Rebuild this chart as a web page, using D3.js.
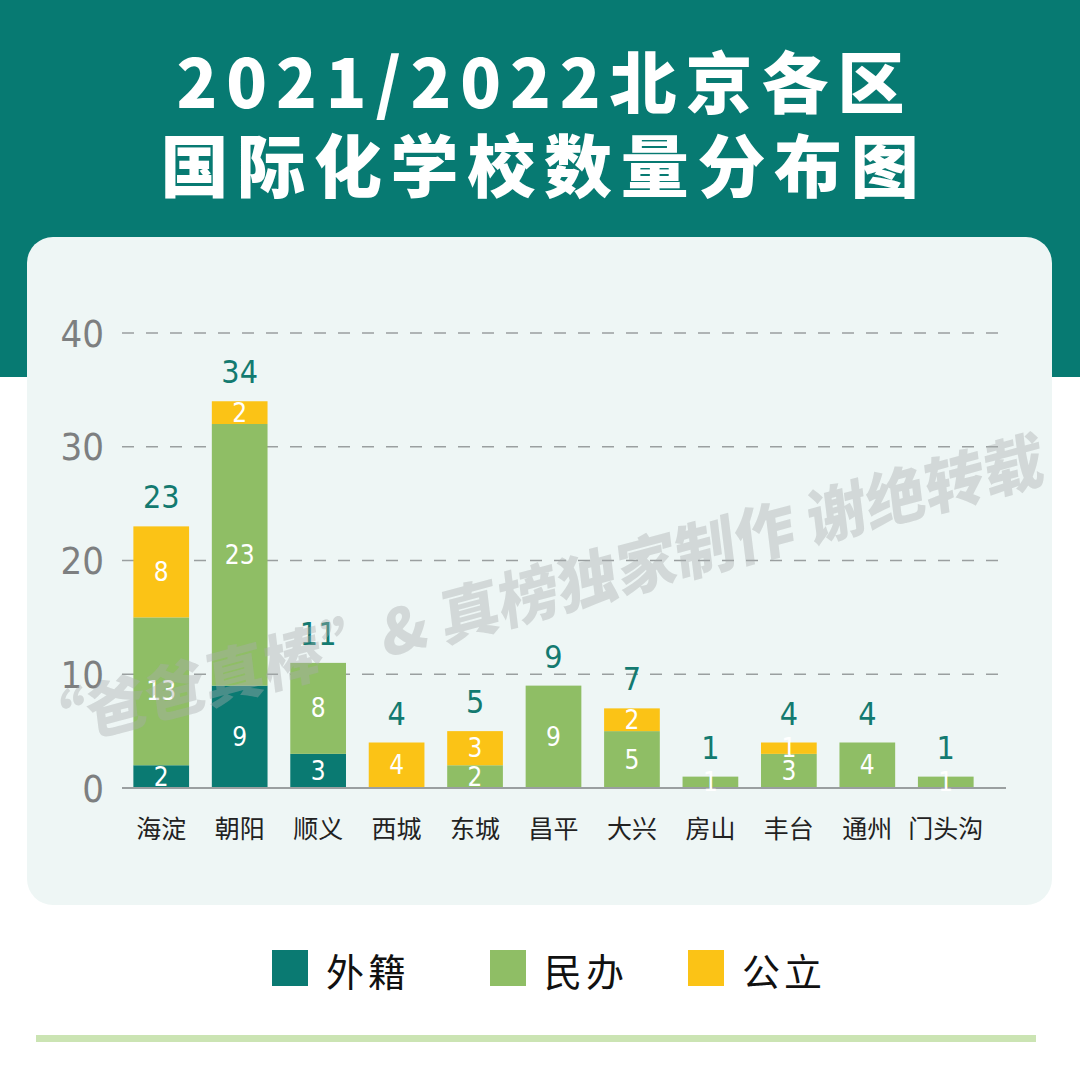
<!DOCTYPE html>
<html><head><meta charset="utf-8">
<script src="https://cdn.jsdelivr.net/npm/d3@7"></script>
<style>
html,body{margin:0;padding:0;background:#fff;}
svg{display:block;}
</style></head>
<body>
<svg id="chart" width="1080" height="1089"></svg>
<script>
const titleLines = ["2021/2022北京各区", "国际化学校数量分布图"];
const categories = ["海淀","朝阳","顺义","西城","东城","昌平","大兴","房山","丰台","通州","门头沟"];
const seriesNames = ["外籍","民办","公立"];
const foreignVals = [2, 9, 3, 0, 0, 0, 0, 0, 0, 0, 0];
const privateVals = [13, 23, 8, 0, 2, 9, 5, 1, 3, 4, 1];
const publicVals  = [8, 2, 0, 4, 3, 0, 2, 0, 1, 0, 0];
const totals      = [23, 34, 11, 4, 5, 9, 7, 1, 4, 4, 1];
const yTicks = [0, 10, 20, 30, 40];
const watermarkText = "“爸爸真棒”& 真榜独家制作 谢绝转载";

const colors = ["#0a7a72", "#8fbe65", "#fbc316"];
const numFont = "'DejaVu Sans Condensed','Liberation Sans Narrow','Roboto',sans-serif";
const cjk = "'Noto Sans CJK SC','Noto Sans',sans-serif";

const svg = d3.select("#chart");

// header band
svg.append("rect").attr("x",0).attr("y",0).attr("width",1080).attr("height",377).attr("fill","#077a72");
// card
svg.append("rect").attr("x",27).attr("y",237).attr("width",1025).attr("height",668)
  .attr("rx",26).attr("ry",26).attr("fill","#eef6f5");

// title
svg.selectAll("text.title").data(titleLines).enter().append("text")
  .attr("class","title")
  .attr("x",(d,i)=> i===0 ? 545 : 544).attr("y",(d,i)=> i===0 ? 78 : 162)
  .attr("text-anchor","middle").attr("dominant-baseline","central")
  .attr("fill","#ffffff").attr("font-family",cjk).attr("font-weight",900)
  .attr("font-size",(d,i)=> i===0 ? 67 : 68).attr("letter-spacing",(d,i)=> i===0 ? 9 : 8.7)
  .text(d=>d);

// scales
const x = d3.scaleBand().domain(categories).range([122,985]).paddingInner(0.29).paddingOuter(0.145);
const y = d3.scaleLinear().domain([0,40]).range([788,333]);

// grid
const grid = svg.append("g");
grid.selectAll("line").data(yTicks.filter(t=>t>0)).enter().append("line")
  .attr("x1",122).attr("x2",1006).attr("y1",d=>y(d)).attr("y2",d=>y(d))
  .attr("stroke","#9a9fa0").attr("stroke-width",1.5).attr("stroke-dasharray","12,12");

// y axis labels via d3 axis
const yAxis = svg.append("g").attr("transform","translate(104,0)")
  .call(d3.axisLeft(y).tickValues(yTicks).tickSize(0).tickPadding(0).tickFormat(d3.format("d")));
yAxis.select(".domain").remove();
yAxis.selectAll("text").attr("fill","#7d7f80").attr("font-size",38)
  .attr("font-family",numFont).attr("dominant-baseline","central").attr("dy",null);

// stacked data
const rows = categories.map((c,i)=>({cat:c, "外籍":foreignVals[i], "民办":privateVals[i], "公立":publicVals[i], total:totals[i]}));
const stack = d3.stack().keys(seriesNames)(rows);

const layers = svg.append("g").selectAll("g").data(stack).enter().append("g")
  .attr("fill",(d,i)=>colors[i]);
layers.selectAll("rect").data(d=>d.filter(s=>s[1]-s[0]>0)).enter().append("rect")
  .attr("x",d=>x(d.data.cat)).attr("width",x.bandwidth())
  .attr("y",d=>y(d[1])).attr("height",d=>y(d[0])-y(d[1]));

// baseline
svg.append("line").attr("x1",122).attr("x2",1006).attr("y1",y(0)).attr("y2",y(0))
  .attr("stroke","#9a9fa0").attr("stroke-width",2);

// segment labels
const segLabels = svg.append("g");
stack.forEach(layer=>{
  segLabels.selectAll(null).data(layer.filter(s=>s[1]-s[0]>0)).enter().append("text")
    .attr("x",d=>x(d.data.cat)+x.bandwidth()/2)
    .attr("y",d=>(y(d[0])+y(d[1]))/2)
    .attr("text-anchor","middle").attr("dominant-baseline","central")
    .attr("fill","#ffffff").attr("font-size",26).attr("font-family",numFont)
    .text(d=>d[1]-d[0]);
});

// total labels
svg.append("g").selectAll("text").data(rows).enter().append("text")
  .attr("x",d=>x(d.cat)+x.bandwidth()/2)
  .attr("y",d=>y(d.total)-29)
  .attr("text-anchor","middle").attr("dominant-baseline","central")
  .attr("fill","#137a70").attr("font-size",32).attr("font-family",numFont)
  .text(d=>d.total);

// x axis labels
const xAxis = svg.append("g").attr("transform",`translate(0,${827})`)
  .call(d3.axisBottom(x).tickSize(0).tickPadding(0));
xAxis.select(".domain").remove();
xAxis.selectAll("text").attr("fill","#222").attr("font-size",25).attr("font-family",cjk)
  .attr("dominant-baseline","central").attr("dy",null).attr("y",0);

// watermark
svg.append("text").attr("transform","translate(535,590) rotate(-15) skewX(-8)")
  .attr("text-anchor","middle").attr("dominant-baseline","central")
  .attr("font-family",cjk).attr("font-weight",900).attr("font-size",61)
  .attr("fill","#a8adad").attr("fill-opacity",0.4)
  .text(watermarkText);

// legend
const legendX = [272, 490, 688];
const lg = svg.append("g").selectAll("g").data(seriesNames).enter().append("g")
  .attr("transform",(d,i)=>`translate(${legendX[i]},950)`);
lg.append("rect").attr("width",36).attr("height",36).attr("fill",(d,i)=>colors[i]);
lg.append("text").attr("x",54).attr("y",19).attr("dominant-baseline","central")
  .attr("font-family",cjk).attr("font-size",38).attr("fill","#111").attr("letter-spacing",4)
  .text(d=>d);

// bottom line
svg.append("rect").attr("x",36).attr("y",1035).attr("width",1000).attr("height",7).attr("fill","#cbe4b3");
</script>
</body></html>
